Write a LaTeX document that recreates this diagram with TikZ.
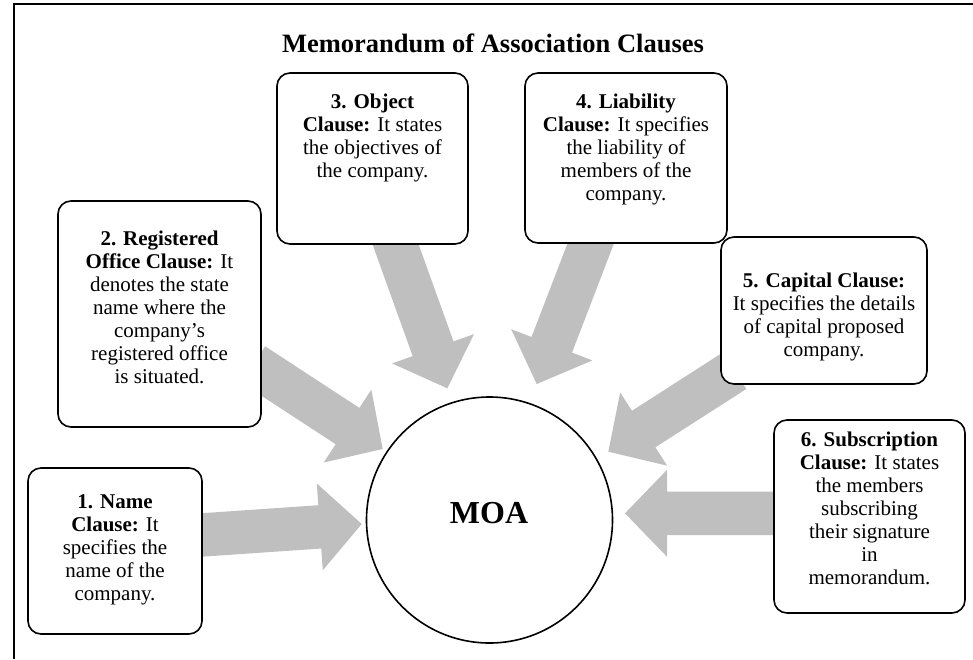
\documentclass[tikz,border=0pt]{standalone}
\usepackage{fontspec}
\setmainfont{Liberation Serif}
\usetikzlibrary{calc}
\definecolor{arrowgray}{RGB}{191,191,191}

% Thick block arrow from tail coordinate #1 to tip coordinate #2
\newcommand\blockarrow[2]{%
  \coordinate (#2-b) at ($(#2)!42pt!(#1)$);
  \fill[arrowgray] ($(#1)!21.7pt!90:(#2)$) -- ($(#2-b)!21.7pt!90:(#2)$)
    -- ($(#2-b)!43.5pt!90:(#2)$) -- (#2) -- ($(#2-b)!43.5pt!-90:(#2)$)
    -- ($(#2-b)!21.7pt!-90:(#2)$) -- ($(#1)!21.7pt!-90:(#2)$) -- cycle;}

\tikzset{
  clausebox/.style={draw, line width=1.6pt, rounded corners=13pt, fill=white,
    rectangle, inner sep=0pt},
  clausetext/.style={anchor=north, inner sep=0pt, align=center,
    font=\fontsize{21}{23}\selectfont},
}

\begin{document}
\begin{tikzpicture}[x=1pt, y=-1pt]
\useasboundingbox (0,0) rectangle (973,659);

% page frame
\draw[line width=2pt] (14,659) -- (14,4) -- (973,4);

% title
\node[anchor=base, inner sep=0pt, font=\fontsize{26.5}{30}\selectfont\bfseries]
  (title) at (493,52.5) {Memorandum of Association Clauses};

% arrow end points
\coordinate (t1) at (194,535.5);   \coordinate (h1) at (361.7,524);
\coordinate (t2) at (253.3,364.5); \coordinate (h2) at (382.7,449);
\coordinate (t3) at (393.1,237.5); \coordinate (h3) at (447.3,388.3);
\coordinate (t4) at (593.4,236.5); \coordinate (h4) at (536.7,384);
\coordinate (t5) at (734.6,370.7); \coordinate (h5) at (608.3,451.7);
\coordinate (t6) at (780,513.3);   \coordinate (h6) at (625,513.3);

\blockarrow{t1}{h1}
\blockarrow{t2}{h2}
\blockarrow{t3}{h3}
\blockarrow{t4}{h4}
\blockarrow{t5}{h5}
\blockarrow{t6}{h6}

% central circle
\node[draw, circle, line width=1.6pt, minimum size=246pt, inner sep=0pt]
  (moa) at (489.5,520) {};
\node[anchor=base, inner sep=0pt, font=\fontsize{32}{36}\selectfont\bfseries]
  (moatext) at (489,523) {MOA};

% clause boxes
\node[clausebox, minimum width=174pt, minimum height=166pt] (b1) at (115,551) {};
\node[clausebox, minimum width=203pt, minimum height=226pt] (b2) at (159.5,314) {};
\node[clausebox, minimum width=191pt, minimum height=171pt] (b3) at (372.5,158.5) {};
\node[clausebox, minimum width=202pt, minimum height=170pt] (b4) at (626,158) {};
\node[clausebox, minimum width=206pt, minimum height=147pt] (b5) at (824,310.5) {};
\node[clausebox, minimum width=191pt, minimum height=193pt] (b6) at (869.5,516.5) {};

% clause texts
\node[clausetext] (c1) at (115,494)
  {\textbf{1. Name}\\\textbf{Clause:} It\\specifies the\\name of the\\company.};
\node[clausetext] (c2) at (159.5,231)
  {\textbf{2. Registered}\\\textbf{Office Clause:} It\\denotes the state\\name where the\\company’s\\registered office\\is situated.};
\node[clausetext] (c3) at (372.5,94)
  {\textbf{3. Object}\\\textbf{Clause:} It states\\the objectives of\\the company.};
\node[clausetext] (c4) at (626,94)
  {\textbf{4. Liability}\\\textbf{Clause:} It specifies\\the liability of\\members of the\\company.};
\node[clausetext] (c5) at (824,273)
  {\textbf{5. Capital Clause:}\\It specifies the details\\of capital proposed\\company.};
\node[clausetext] (c6) at (869.5,432)
  {\textbf{6. Subscription}\\\textbf{Clause:} It states\\the members\\subscribing\\their signature\\in\\memorandum.};
\end{tikzpicture}
\end{document}
